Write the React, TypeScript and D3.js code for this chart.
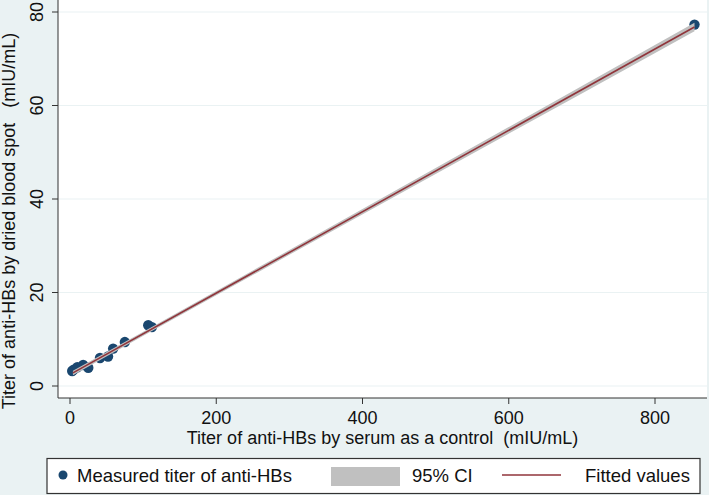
import React from 'react'
import * as d3 from 'd3'

// measured points: serum titer (x) vs dried blood spot titer (y)
const serum = [3, 5, 10, 18, 25, 41, 52, 59, 75, 107, 112, 854]
const dbs = [3.2, 3.5, 4.0, 4.5, 3.9, 6.0, 6.3, 8.0, 9.4, 13.0, 12.6, 77.3]

// fitted line end points
const fitX = [4, 854]
const fitY = [2.8, 76.8]

// half width of the 95% CI around the fitted line
const ciX = [4, 115, 300, 500, 700, 854]
const ciHalf = [0.48, 0.45, 0.5, 0.64, 0.8, 0.92]

const xTicks = [0, 200, 400, 600, 800]
const yTicks = [0, 20, 40, 60, 80]

const xTitle = 'Titer of anti-HBs by serum as a control\u00a0\u00a0(mIU/mL)'
const yTitle = 'Titer of anti-HBs by dried blood spot\u00a0\u00a0\u00a0(mIU/mL)'

const width = 709
const height = 495
const font = '"Liberation Sans", Arial, Helvetica, sans-serif'
const bg = '#eaf2f3'
const navy = '#1a476f'
const maroon = '#90353b'
const ciGray = '#c0c0c0'
const axisColor = '#333'

export default function App() {
  const x = d3.scaleLinear().domain([0, 800]).range([70, 655])
  const y = d3.scaleLinear().domain([0, 80]).range([386, 12])
  const fit = d3.scaleLinear().domain(fitX).range(fitY)

  const plot = { left: 58, right: 707, top: 0, bottom: 398 }

  const band = d3.area<number>()
    .x((d) => x(d))
    .y0((d, i) => y(fit(d) - ciHalf[i]))
    .y1((d, i) => y(fit(d) + ciHalf[i]))
  const line = d3.line<number>().x((d) => x(d)).y((d) => y(fit(d)))

  return (
    <svg width={width} height={height} style={{ position: 'absolute', left: 0, top: 0 }} fontFamily={font}>
      <rect width={width} height={height} fill={bg} />
      <rect x={plot.left} y={plot.top} width={plot.right - plot.left} height={plot.bottom - plot.top} fill="white" />

      {yTicks.map((t) => (
        <line key={t} x1={plot.left} x2={plot.right} y1={y(t)} y2={y(t)} stroke={bg} strokeWidth={1.2} />
      ))}

      {serum.map((v, i) => (
        <circle key={i} cx={x(v)} cy={y(dbs[i])} r={5.2} fill={navy} />
      ))}

      <path d={band(ciX) || ''} fill={ciGray} />
      <path d={line(fitX) || ''} fill="none" stroke={maroon} strokeWidth={1.6} />

      {/* axes */}
      <line x1={plot.left} x2={plot.left} y1={plot.top} y2={plot.bottom} stroke={axisColor} strokeWidth={1} />
      <line x1={plot.left} x2={plot.right} y1={plot.bottom} y2={plot.bottom} stroke={axisColor} strokeWidth={1} />
      {yTicks.map((t) => (
        <g key={t}>
          <line x1={plot.left - 6} x2={plot.left} y1={y(t)} y2={y(t)} stroke={axisColor} />
          <text transform={`translate(43,${y(t)}) rotate(-90)`} textAnchor="middle" fontSize={18} fill="#111">{t}</text>
        </g>
      ))}
      {xTicks.map((t) => (
        <g key={t}>
          <line x1={x(t)} x2={x(t)} y1={plot.bottom} y2={plot.bottom + 6} stroke={axisColor} />
          <text x={x(t)} y={424} textAnchor="middle" fontSize={18} fill="#111">{t}</text>
        </g>
      ))}

      <text x={(plot.left + plot.right) / 2} y={444} textAnchor="middle" fontSize={18} fill="#111">{xTitle}</text>
      <text transform={`translate(15,221) rotate(-90)`} textAnchor="middle" fontSize={18} fill="#111">{yTitle}</text>

      {/* legend */}
      <rect x={47} y={458.5} width={653} height={35} fill="white" stroke={axisColor} strokeWidth={1.2} />
      <circle cx={63} cy={475} r={4.5} fill={navy} />
      <text x={77} y={482} fontSize={18.5} fill="#111">Measured titer of anti-HBs</text>
      <rect x={331} y={467} width={69} height={19} fill={ciGray} />
      <text x={412} y={482} fontSize={18.5} fill="#111">95% CI</text>
      <line x1={502} x2={561} y1={475} y2={475} stroke={maroon} strokeWidth={1.6} />
      <text x={585} y={482} fontSize={18.5} fill="#111">Fitted values</text>
    </svg>
  )
}
